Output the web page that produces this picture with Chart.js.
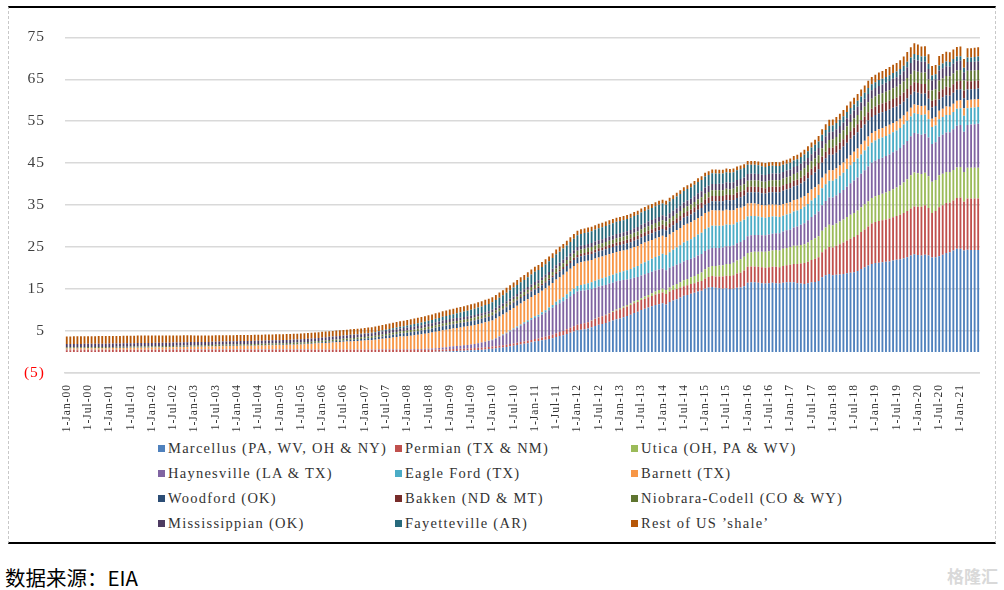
<!DOCTYPE html>
<html>
<head>
  <meta charset="UTF-8" />
  <title>美国页岩气产量</title>
  <script src="https://cdn.jsdelivr.net/npm/chart.js"></script>
  <style>
    body { margin: 0; background: #fff; width: 1004px; height: 590px; overflow: hidden; position: relative; }
    .frame {
      position: absolute; left: 8px; top: 6px; width: 988px; height: 538px;
      box-sizing: border-box;
      border-top: 2px solid #000; border-bottom: 2px solid #000;
      border-left: 1px dashed #c8c8c8; border-right: 1px dashed #c8c8c8;
    }
    #chart { position: absolute; left: 0; top: 0; }
    .legend-item {
      position: absolute; font-family: "Liberation Serif", "Times New Roman", serif; font-size: 14.5px;
      letter-spacing: 1.25px; line-height: 16px; color: #333; white-space: pre;
    }
    .legend-item i { display: inline-block; width: 7px; height: 7px; margin-right: 3px; vertical-align: 1px; }
    .source { position: absolute; left: 5px; top: 566px; font-family: "Noto Sans CJK SC"; font-size: 20.5px; line-height: 22px; color: #000; }
    .mark { position: absolute; right: 6px; top: 566px; font-family: "Noto Sans CJK SC"; font-weight: bold; font-size: 17px; line-height: 20px; color: #d9d9d9; }
  </style>
</head>
<body>
  <div class="frame">
    <canvas id="chart" width="986" height="430"></canvas>
    <div id="legend"></div>
  </div>
  <div class="source">数据来源：EIA</div>
  <div class="mark">格隆汇</div>

<script>
  // monthly, Jan-2000 .. Jun-2021, bcf/d
  const monthNames = ['Jan', 'Feb', 'Mar', 'Apr', 'May', 'Jun', 'Jul', 'Aug', 'Sep', 'Oct', 'Nov', 'Dec']
  const firstYear = 2000
  const monthCount = 258
  const yTicks = [-5, 5, 15, 25, 35, 45, 55, 65, 75]

  const seriesNames = [
    'Marcellus (PA, WV, OH & NY)', 'Permian (TX & NM)', 'Utica (OH, PA & WV)',
    'Haynesville (LA & TX)', 'Eagle Ford (TX)', 'Barnett (TX)',
    'Woodford (OK)', 'Bakken (ND & MT)', 'Niobrara-Codell (CO & WY)',
    'Mississippian (OK)', 'Fayetteville (AR)', 'Rest of US ’shale’'
  ]
  const seriesColors = [
    '#4F81BD', '#C0504D', '#9BBB59', '#8064A2', '#4BACC6', '#F79646',
    '#2C4D75', '#772C2A', '#5F7530', '#4D3B62', '#276A7C', '#B65708'
  ]

  const marcellus = [
    0,0,0,0,0,0,0,0,0,0,0,0,
    0,0,0,0,0,0,0,0,0,0,0,0,
    0,0,0,0,0,0,0,0,0,0,0,0,
    0,0,0,0,0,0,0,0,0,0,0,0,
    0,0,0,0,0,0,0,0,0,0,0,0,
    0,0,0,0,0,0,0,0,0,0,0,0,
    0,0,0,0,0,0,0,0,0,0,0,0,
    0,0,0,0,0,0,0,0,0,0,0,0,
    0,0,0,0,0,0,0.02,0.03,0.05,0.07,0.1,0.12,
    0.2,0.22,0.25,0.28,0.32,0.36,0.4,0.45,0.5,0.55,0.62,0.7,
    0.8,0.9,1.0,1.1,1.2,1.35,1.5,1.65,1.8,1.95,2.1,2.3,
    2.5,2.6,2.8,2.9,3.1,3.3,3.6,3.8,4.0,4.3,4.6,4.9,
    5.2,5.3,5.4,5.6,5.9,6.2,6.5,6.7,6.9,7.2,7.5,7.8,
    8.0,8.3,8.6,8.9,9.3,9.6,10.0,10.3,10.6,10.9,11.2,11.4,
    11.6,11.3,11.9,12.3,12.6,13.0,13.4,13.6,13.9,14.1,14.4,14.6,
    15.1,15.4,15.5,15.3,15.2,15.1,15.2,15.0,15.1,15.3,15.4,15.7,
    16.5,16.6,16.6,16.5,16.4,16.3,16.4,16.5,16.4,16.3,16.5,16.6,
    16.6,16.6,16.4,16.3,16.2,16.4,16.6,16.7,16.9,17.8,18.3,18.6,
    18.3,18.4,18.5,18.6,18.8,18.9,19.0,19.3,19.8,20.2,20.6,21.0,
    21.2,21.3,21.4,21.5,21.6,21.8,22.0,22.1,22.3,22.6,23.0,23.3,
    23.1,23.0,23.2,23.0,22.5,22.6,22.8,23.2,23.6,23.8,24.2,24.6,
    24.6,24.2,24.4,24.3,24.3,24.3
  ]
  const permian = [
    0.45,0.45,0.46,0.45,0.45,0.46,0.46,0.45,0.45,0.46,0.46,0.46,
    0.46,0.46,0.47,0.46,0.46,0.47,0.47,0.46,0.47,0.47,0.47,0.47,
    0.47,0.47,0.48,0.47,0.47,0.48,0.48,0.48,0.48,0.48,0.48,0.49,
    0.49,0.49,0.49,0.49,0.49,0.5,0.5,0.5,0.5,0.5,0.5,0.5,
    0.5,0.5,0.5,0.5,0.5,0.5,0.5,0.5,0.5,0.5,0.5,0.5,
    0.5,0.5,0.5,0.51,0.51,0.51,0.51,0.51,0.51,0.52,0.52,0.52,
    0.52,0.52,0.52,0.52,0.52,0.52,0.53,0.53,0.53,0.53,0.53,0.53,
    0.53,0.53,0.53,0.53,0.54,0.54,0.54,0.54,0.54,0.54,0.55,0.55,
    0.55,0.55,0.55,0.55,0.55,0.55,0.55,0.54,0.54,0.53,0.52,0.51,
    0.5,0.5,0.49,0.49,0.48,0.48,0.48,0.48,0.49,0.49,0.5,0.5,
    0.5,0.5,0.51,0.52,0.53,0.54,0.55,0.56,0.57,0.58,0.58,0.59,
    0.6,0.63,0.67,0.71,0.76,0.82,0.88,0.95,1.02,1.1,1.18,1.25,
    1.3,1.37,1.44,1.51,1.58,1.65,1.72,1.8,1.88,1.96,2.04,2.12,
    2.2,2.22,2.25,2.28,2.31,2.34,2.37,2.4,2.43,2.46,2.5,2.55,
    2.6,2.55,2.5,2.45,2.4,2.35,2.3,2.3,2.3,2.3,2.35,2.35,
    2.4,2.5,2.6,2.7,2.8,2.9,3.0,3.1,3.2,3.4,3.5,3.7,
    3.8,3.8,3.8,3.8,3.8,3.8,3.8,3.8,3.9,3.9,4.0,4.1,
    4.2,4.4,4.6,4.8,5.0,5.1,5.3,5.5,5.7,6.0,6.2,6.4,
    6.6,6.9,7.2,7.5,7.8,8.1,8.4,8.6,8.8,9.0,9.3,9.6,
    9.8,9.9,10.0,10.1,10.2,10.3,10.4,10.6,10.8,11.0,11.2,11.4,
    11.5,11.6,11.8,11.3,10.6,11.0,11.7,11.8,11.9,11.8,11.9,12.1,
    12.2,11.6,12.2,12.3,12.3,12.3
  ]
  const utica = [
    0,0,0,0,0,0,0,0,0,0,0,0,
    0,0,0,0,0,0,0,0,0,0,0,0,
    0,0,0,0,0,0,0,0,0,0,0,0,
    0,0,0,0,0,0,0,0,0,0,0,0,
    0,0,0,0,0,0,0,0,0,0,0,0,
    0,0,0,0,0,0,0,0,0,0,0,0,
    0,0,0,0,0,0,0,0,0,0,0,0,
    0,0,0,0,0,0,0,0,0,0,0,0,
    0,0,0,0,0,0,0,0,0,0,0,0,
    0,0,0,0,0,0,0,0,0,0,0,0,
    0,0,0,0,0,0,0,0,0,0,0,0,
    0,0,0,0,0,0,0,0,0,0,0,0,
    0.02,0.03,0.03,0.04,0.05,0.06,0.08,0.1,0.12,0.15,0.18,0.22,
    0.3,0.32,0.35,0.38,0.4,0.43,0.47,0.52,0.58,0.65,0.72,0.8,
    0.9,0.95,1.0,1.1,1.2,1.3,1.4,1.5,1.6,1.7,1.85,2.0,
    2.2,2.3,2.4,2.5,2.6,2.7,2.8,2.9,3.0,3.1,3.2,3.3,
    3.3,3.4,3.5,3.6,3.7,3.8,3.8,3.9,4.0,4.0,4.1,4.1,
    4.2,4.3,4.3,4.4,4.5,4.6,4.8,4.9,5.0,5.1,5.2,5.3,
    5.3,5.3,5.4,5.5,5.6,5.7,5.7,5.8,5.9,6.0,6.0,6.1,
    6.1,6.2,6.3,6.4,6.6,6.7,6.8,7.0,7.3,7.6,7.9,8.1,
    8.0,7.8,7.7,7.6,7.5,7.4,7.6,7.5,7.4,7.3,7.3,7.3,
    7.3,7.1,7.3,7.3,7.3,7.3
  ]
  const haynesville = [
    0.1,0.1,0.1,0.1,0.1,0.1,0.1,0.1,0.1,0.1,0.1,0.1,
    0.1,0.1,0.1,0.1,0.1,0.1,0.1,0.1,0.1,0.1,0.1,0.1,
    0.1,0.1,0.1,0.1,0.1,0.1,0.1,0.1,0.1,0.1,0.1,0.1,
    0.1,0.1,0.1,0.1,0.1,0.1,0.1,0.1,0.1,0.1,0.1,0.1,
    0.1,0.1,0.1,0.1,0.1,0.1,0.1,0.1,0.1,0.1,0.1,0.1,
    0.1,0.1,0.1,0.1,0.1,0.1,0.1,0.1,0.1,0.1,0.1,0.1,
    0.1,0.1,0.1,0.1,0.1,0.1,0.1,0.1,0.1,0.1,0.1,0.1,
    0.1,0.1,0.1,0.1,0.1,0.1,0.11,0.11,0.11,0.11,0.12,0.12,
    0.12,0.13,0.14,0.15,0.17,0.2,0.23,0.27,0.32,0.38,0.45,0.52,
    0.6,0.65,0.7,0.75,0.8,0.85,0.9,1.0,1.1,1.2,1.3,1.4,
    1.5,1.8,2.1,2.4,2.7,3.0,3.3,3.6,3.9,4.2,4.5,4.8,
    5.0,5.2,5.5,5.8,6.1,6.4,6.7,6.9,7.1,7.3,7.5,7.7,
    7.9,7.9,7.8,7.7,7.5,7.4,7.3,7.2,7.1,7.0,6.8,6.7,
    6.5,6.3,6.1,5.9,5.7,5.5,5.4,5.3,5.2,5.1,5.0,4.9,
    4.8,4.7,4.7,4.6,4.6,4.5,4.5,4.5,4.4,4.4,4.4,4.4,
    4.4,4.3,4.3,4.3,4.2,4.2,4.2,4.2,4.1,4.1,4.1,4.0,
    4.0,4.0,4.0,4.0,3.9,3.9,4.0,4.0,4.0,4.1,4.1,4.2,
    4.2,4.4,4.6,4.8,5.0,5.3,5.5,5.7,5.9,6.1,6.3,6.5,
    6.6,6.7,6.8,7.0,7.2,7.5,7.8,7.9,8.0,8.1,8.3,8.4,
    8.5,8.6,8.6,8.7,8.7,8.8,8.8,8.9,9.0,9.1,9.3,9.4,
    9.4,9.4,9.3,9.2,9.0,9.0,9.2,9.3,9.4,9.5,9.7,9.9,
    10.0,9.6,10.2,10.3,10.4,10.5
  ]
  const eagleFord = [
    0,0,0,0,0,0,0,0,0,0,0,0,
    0,0,0,0,0,0,0,0,0,0,0,0,
    0,0,0,0,0,0,0,0,0,0,0,0,
    0,0,0,0,0,0,0,0,0,0,0,0,
    0,0,0,0,0,0,0,0,0,0,0,0,
    0,0,0,0,0,0,0,0,0,0,0,0,
    0,0,0,0,0,0,0,0,0,0,0,0,
    0,0,0,0,0,0,0,0,0,0,0,0,
    0,0,0,0,0,0,0,0,0,0,0,0,
    0,0,0,0,0,0,0,0.01,0.02,0.03,0.05,0.07,
    0.1,0.12,0.14,0.16,0.19,0.22,0.25,0.28,0.31,0.34,0.37,0.4,
    0.4,0.45,0.5,0.56,0.62,0.7,0.78,0.86,0.95,1.05,1.15,1.25,
    1.3,1.4,1.5,1.55,1.6,1.65,1.7,1.75,1.8,1.85,1.9,1.95,
    2.0,2.1,2.2,2.35,2.5,2.65,2.8,2.9,3.0,3.1,3.2,3.3,
    3.5,3.6,3.7,3.9,4.1,4.3,4.5,4.6,4.7,4.9,5.0,5.1,
    5.2,5.2,5.3,5.3,5.3,5.2,5.2,5.1,5.0,5.0,4.9,4.8,
    4.7,4.6,4.5,4.4,4.3,4.2,4.2,4.1,4.0,3.9,3.8,3.8,
    3.8,3.8,3.8,3.8,3.9,3.9,3.9,3.9,3.9,4.0,4.0,4.0,
    4.0,4.0,4.1,4.1,4.2,4.3,4.4,4.5,4.6,4.7,4.8,4.8,
    4.8,4.8,4.8,4.8,4.8,4.8,4.8,4.8,4.8,4.8,4.7,4.7,
    4.7,4.7,4.6,4.4,4.0,4.0,4.2,4.2,4.2,4.1,4.1,4.1,
    4.0,3.8,4.0,4.0,4.0,4.0
  ]
  const barnett = [
    0.3,0.3,0.31,0.31,0.32,0.32,0.33,0.33,0.34,0.34,0.35,0.35,
    0.36,0.37,0.38,0.39,0.4,0.41,0.42,0.43,0.44,0.45,0.46,0.47,
    0.48,0.49,0.5,0.51,0.52,0.53,0.54,0.56,0.58,0.6,0.62,0.64,
    0.65,0.66,0.67,0.68,0.7,0.72,0.74,0.76,0.78,0.8,0.82,0.84,
    0.86,0.87,0.88,0.89,0.9,0.92,0.94,0.96,0.98,1.0,1.02,1.04,
    1.06,1.08,1.1,1.12,1.15,1.18,1.21,1.25,1.29,1.34,1.39,1.44,
    1.5,1.55,1.6,1.65,1.7,1.75,1.8,1.85,1.9,1.95,2.0,2.05,
    2.1,2.15,2.2,2.3,2.4,2.5,2.6,2.7,2.8,2.9,3.0,3.05,
    3.1,3.2,3.3,3.4,3.5,3.6,3.7,3.8,3.9,4.0,4.1,4.15,
    4.2,4.25,4.3,4.35,4.4,4.45,4.5,4.5,4.55,4.55,4.6,4.6,
    4.6,4.65,4.7,4.75,4.8,4.85,4.9,4.95,5.0,5.0,5.05,5.05,
    5.1,5.1,5.15,5.2,5.2,5.25,5.3,5.3,5.35,5.35,5.4,5.4,
    5.4,5.4,5.4,5.35,5.3,5.3,5.25,5.2,5.2,5.15,5.1,5.05,
    5.0,4.95,4.9,4.85,4.8,4.75,4.7,4.65,4.6,4.5,4.45,4.4,
    4.3,4.25,4.2,4.2,4.15,4.1,4.1,4.05,4.0,4.0,3.95,3.9,
    3.8,3.75,3.7,3.65,3.6,3.55,3.5,3.45,3.4,3.35,3.3,3.2,
    3.1,3.05,3.0,3.0,2.95,2.9,2.9,2.85,2.8,2.8,2.75,2.7,
    2.7,2.7,2.65,2.65,2.6,2.6,2.6,2.55,2.55,2.5,2.5,2.5,
    2.5,2.5,2.45,2.45,2.45,2.4,2.4,2.4,2.35,2.35,2.35,2.3,
    2.3,2.3,2.3,2.25,2.25,2.2,2.2,2.2,2.15,2.15,2.1,2.1,
    2.1,2.1,2.1,2.05,2.0,2.0,2.0,2.0,2.0,1.95,1.95,1.9,
    1.9,1.8,1.9,1.9,1.9,1.9
  ]
  const woodford = [
    0.05,0.05,0.05,0.05,0.05,0.05,0.05,0.05,0.05,0.05,0.05,0.05,
    0.05,0.05,0.05,0.05,0.05,0.05,0.06,0.06,0.06,0.06,0.06,0.06,
    0.06,0.06,0.06,0.06,0.06,0.06,0.07,0.07,0.07,0.07,0.07,0.07,
    0.07,0.07,0.07,0.07,0.07,0.07,0.08,0.08,0.08,0.08,0.08,0.08,
    0.08,0.08,0.08,0.08,0.09,0.09,0.09,0.09,0.1,0.1,0.1,0.1,
    0.1,0.1,0.11,0.11,0.12,0.12,0.13,0.14,0.15,0.16,0.17,0.18,
    0.2,0.22,0.24,0.26,0.28,0.3,0.32,0.34,0.36,0.38,0.4,0.42,
    0.45,0.48,0.5,0.52,0.55,0.58,0.6,0.63,0.66,0.7,0.73,0.76,
    0.8,0.82,0.84,0.86,0.88,0.9,0.92,0.94,0.96,0.97,0.98,0.99,
    1.0,1.0,1.01,1.02,1.03,1.04,1.05,1.06,1.07,1.08,1.09,1.1,
    1.2,1.2,1.21,1.22,1.23,1.24,1.25,1.26,1.27,1.28,1.29,1.3,
    1.3,1.3,1.31,1.32,1.33,1.34,1.35,1.36,1.37,1.38,1.39,1.4,
    1.4,1.4,1.41,1.42,1.43,1.44,1.45,1.46,1.47,1.48,1.49,1.5,
    1.5,1.5,1.51,1.52,1.53,1.54,1.55,1.56,1.57,1.58,1.59,1.6,
    1.6,1.62,1.64,1.66,1.7,1.74,1.78,1.82,1.86,1.9,1.94,1.98,
    2.0,2.05,2.1,2.15,2.2,2.25,2.3,2.35,2.4,2.45,2.5,2.55,
    2.6,2.65,2.7,2.75,2.8,2.85,2.9,2.95,3.0,3.1,3.2,3.25,
    3.3,3.3,3.35,3.4,3.45,3.5,3.5,3.55,3.6,3.6,3.65,3.7,
    3.7,3.7,3.75,3.8,3.85,3.9,3.9,3.9,3.9,3.85,3.85,3.8,
    3.8,3.8,3.75,3.7,3.65,3.6,3.5,3.4,3.3,3.2,3.1,3.0,
    3.0,2.95,2.9,2.8,2.65,2.6,2.7,2.7,2.7,2.65,2.65,2.6,
    2.6,2.4,2.55,2.5,2.5,2.5
  ]
  const bakken = [
    0.02,0.02,0.02,0.02,0.02,0.02,0.02,0.02,0.02,0.02,0.02,0.02,
    0.02,0.02,0.02,0.02,0.02,0.02,0.02,0.02,0.02,0.02,0.02,0.02,
    0.02,0.02,0.02,0.02,0.02,0.02,0.02,0.02,0.02,0.02,0.02,0.02,
    0.02,0.02,0.02,0.02,0.02,0.02,0.02,0.02,0.02,0.02,0.02,0.02,
    0.02,0.02,0.02,0.02,0.02,0.02,0.02,0.02,0.02,0.02,0.02,0.02,
    0.02,0.02,0.02,0.02,0.02,0.02,0.02,0.02,0.02,0.02,0.02,0.02,
    0.02,0.02,0.02,0.02,0.02,0.02,0.02,0.02,0.02,0.02,0.02,0.02,
    0.02,0.02,0.02,0.03,0.03,0.03,0.03,0.04,0.04,0.04,0.05,0.05,
    0.05,0.05,0.06,0.06,0.07,0.07,0.08,0.08,0.09,0.09,0.1,0.1,
    0.1,0.1,0.11,0.11,0.12,0.12,0.13,0.13,0.14,0.14,0.15,0.15,
    0.15,0.16,0.17,0.18,0.19,0.2,0.21,0.22,0.24,0.25,0.27,0.28,
    0.3,0.32,0.34,0.36,0.38,0.4,0.42,0.45,0.48,0.5,0.53,0.55,
    0.6,0.62,0.63,0.65,0.67,0.68,0.7,0.72,0.73,0.75,0.77,0.78,
    0.8,0.82,0.83,0.85,0.87,0.88,0.9,0.92,0.93,0.95,0.97,0.98,
    1.0,1.02,1.05,1.07,1.1,1.12,1.15,1.17,1.2,1.22,1.25,1.27,
    1.3,1.3,1.3,1.3,1.3,1.3,1.3,1.3,1.3,1.3,1.3,1.3,
    1.3,1.3,1.3,1.3,1.3,1.3,1.3,1.3,1.3,1.3,1.3,1.3,
    1.3,1.32,1.35,1.37,1.4,1.42,1.45,1.47,1.5,1.52,1.55,1.6,
    1.7,1.72,1.75,1.77,1.8,1.82,1.85,1.87,1.9,1.93,1.96,2.0,
    2.0,2.02,2.05,2.07,2.1,2.12,2.15,2.17,2.2,2.23,2.26,2.3,
    2.3,2.3,2.3,2.0,1.6,1.6,1.9,1.9,2.0,2.0,2.0,2.0,
    2.0,1.8,1.95,1.9,1.9,1.9
  ]
  const niobrara = [
    0.2,0.2,0.2,0.2,0.2,0.21,0.21,0.21,0.21,0.22,0.22,0.22,
    0.22,0.22,0.22,0.22,0.23,0.23,0.23,0.23,0.24,0.24,0.24,0.24,
    0.24,0.24,0.24,0.25,0.25,0.25,0.25,0.25,0.26,0.26,0.26,0.26,
    0.26,0.26,0.26,0.27,0.27,0.27,0.27,0.27,0.28,0.28,0.28,0.28,
    0.28,0.28,0.28,0.29,0.29,0.29,0.29,0.29,0.3,0.3,0.3,0.3,
    0.3,0.3,0.31,0.31,0.31,0.32,0.32,0.32,0.33,0.33,0.34,0.34,
    0.35,0.35,0.36,0.36,0.36,0.37,0.37,0.37,0.38,0.38,0.39,0.39,
    0.4,0.41,0.41,0.42,0.43,0.43,0.44,0.45,0.46,0.46,0.47,0.48,
    0.5,0.5,0.5,0.51,0.51,0.52,0.52,0.52,0.53,0.53,0.54,0.54,
    0.55,0.55,0.56,0.56,0.56,0.57,0.57,0.58,0.58,0.59,0.59,0.6,
    0.6,0.61,0.62,0.63,0.64,0.65,0.66,0.67,0.68,0.69,0.7,0.75,
    0.8,0.81,0.83,0.84,0.85,0.87,0.88,0.89,0.91,0.92,0.94,0.95,
    1.0,1.0,1.0,1.0,1.0,1.0,1.0,1.0,1.0,1.0,1.0,1.0,
    1.0,1.0,1.01,1.02,1.03,1.04,1.05,1.06,1.07,1.08,1.09,1.1,
    1.1,1.11,1.13,1.14,1.16,1.17,1.19,1.2,1.22,1.23,1.25,1.28,
    1.3,1.31,1.33,1.34,1.35,1.37,1.38,1.39,1.41,1.42,1.44,1.45,
    1.5,1.5,1.5,1.5,1.51,1.52,1.53,1.54,1.55,1.56,1.57,1.58,
    1.6,1.63,1.66,1.7,1.73,1.76,1.8,1.83,1.86,1.89,1.92,1.95,
    2.0,2.03,2.07,2.1,2.13,2.17,2.2,2.23,2.27,2.3,2.34,2.38,
    2.4,2.43,2.45,2.48,2.5,2.53,2.55,2.58,2.6,2.63,2.66,2.7,
    2.7,2.7,2.7,2.6,2.45,2.4,2.6,2.6,2.6,2.6,2.6,2.6,
    2.6,2.4,2.5,2.5,2.5,2.5
  ]
  const mississippian = [
    0.8,0.8,0.8,0.8,0.8,0.8,0.8,0.8,0.8,0.8,0.8,0.8,
    0.8,0.8,0.8,0.8,0.8,0.8,0.8,0.8,0.8,0.8,0.8,0.8,
    0.8,0.8,0.8,0.8,0.79,0.79,0.79,0.79,0.78,0.78,0.78,0.78,
    0.77,0.77,0.77,0.77,0.76,0.76,0.76,0.76,0.75,0.75,0.75,0.75,
    0.75,0.75,0.75,0.75,0.75,0.75,0.75,0.75,0.75,0.75,0.75,0.75,
    0.75,0.75,0.75,0.75,0.75,0.75,0.75,0.75,0.75,0.75,0.75,0.75,
    0.75,0.75,0.75,0.75,0.75,0.74,0.74,0.74,0.74,0.73,0.73,0.73,
    0.73,0.73,0.72,0.72,0.72,0.71,0.71,0.71,0.7,0.7,0.7,0.7,
    0.7,0.7,0.7,0.7,0.7,0.7,0.7,0.7,0.7,0.7,0.7,0.7,
    0.7,0.69,0.68,0.67,0.66,0.65,0.64,0.63,0.62,0.61,0.6,0.6,
    0.6,0.6,0.61,0.61,0.62,0.62,0.63,0.63,0.64,0.64,0.65,0.65,
    0.7,0.71,0.72,0.73,0.75,0.76,0.77,0.78,0.8,0.81,0.83,0.85,
    0.9,0.9,0.91,0.92,0.93,0.94,0.95,0.96,0.97,0.98,0.99,1.0,
    1.0,1.01,1.03,1.04,1.05,1.07,1.08,1.09,1.11,1.12,1.14,1.15,
    1.2,1.22,1.24,1.26,1.28,1.3,1.32,1.34,1.36,1.39,1.42,1.45,
    1.5,1.5,1.51,1.52,1.53,1.54,1.55,1.56,1.57,1.58,1.59,1.6,
    1.6,1.6,1.6,1.6,1.6,1.6,1.6,1.6,1.6,1.6,1.6,1.6,
    1.6,1.62,1.63,1.65,1.67,1.68,1.7,1.72,1.73,1.75,1.77,1.8,
    1.8,1.82,1.83,1.85,1.87,1.88,1.9,1.92,1.93,1.95,1.97,2.0,
    2.0,2.05,2.1,2.15,2.2,2.25,2.3,2.35,2.45,2.55,2.65,2.7,
    2.7,2.6,2.6,2.5,2.4,2.4,2.4,2.4,2.3,2.3,2.3,2.2,
    2.2,2.0,2.1,2.1,2.1,2.1
  ]
  const fayetteville = [
    0,0,0,0,0,0,0,0,0,0,0,0,
    0,0,0,0,0,0,0,0,0,0,0,0,
    0,0,0,0,0,0,0,0,0,0,0,0,
    0,0,0,0,0,0,0,0,0,0,0,0,
    0,0,0,0,0,0,0,0,0,0,0,0,
    0,0,0,0,0,0,0,0,0.01,0.01,0.01,0.01,
    0.02,0.02,0.03,0.03,0.04,0.04,0.05,0.05,0.06,0.07,0.08,0.09,
    0.1,0.12,0.14,0.17,0.2,0.23,0.26,0.3,0.34,0.38,0.42,0.46,
    0.5,0.54,0.58,0.62,0.66,0.7,0.74,0.78,0.82,0.86,0.9,0.95,
    1.0,1.06,1.13,1.2,1.27,1.34,1.41,1.48,1.55,1.62,1.69,1.75,
    1.8,1.85,1.9,1.95,2.0,2.05,2.1,2.15,2.2,2.25,2.3,2.35,
    2.4,2.43,2.46,2.49,2.52,2.55,2.6,2.63,2.66,2.69,2.72,2.75,
    2.8,2.81,2.82,2.83,2.84,2.85,2.86,2.87,2.88,2.89,2.9,2.9,
    2.9,2.9,2.9,2.9,2.9,2.9,2.9,2.9,2.9,2.9,2.9,2.9,
    2.8,2.8,2.79,2.78,2.77,2.76,2.75,2.74,2.72,2.7,2.68,2.65,
    2.6,2.57,2.54,2.51,2.48,2.45,2.42,2.39,2.36,2.33,2.3,2.25,
    2.2,2.15,2.1,2.05,2.0,1.95,1.9,1.85,1.8,1.75,1.7,1.65,
    1.6,1.6,1.6,1.6,1.6,1.58,1.57,1.56,1.55,1.54,1.52,1.5,
    1.5,1.5,1.5,1.49,1.48,1.47,1.46,1.45,1.44,1.43,1.42,1.41,
    1.4,1.4,1.39,1.39,1.38,1.37,1.36,1.35,1.34,1.33,1.32,1.3,
    1.3,1.28,1.26,1.24,1.2,1.18,1.16,1.15,1.14,1.13,1.12,1.11,
    1.1,1.05,1.1,1.1,1.1,1.1
  ]
  const restOfUS = [
    1.8,1.8,1.8,1.8,1.8,1.8,1.8,1.8,1.8,1.8,1.8,1.8,
    1.8,1.8,1.8,1.79,1.79,1.79,1.78,1.78,1.78,1.77,1.77,1.76,
    1.75,1.74,1.73,1.72,1.71,1.7,1.69,1.68,1.67,1.66,1.65,1.64,
    1.55,1.54,1.53,1.52,1.51,1.5,1.5,1.49,1.48,1.47,1.46,1.45,
    1.45,1.45,1.44,1.44,1.43,1.43,1.42,1.42,1.41,1.41,1.4,1.4,
    1.4,1.4,1.39,1.39,1.38,1.38,1.37,1.37,1.36,1.36,1.35,1.35,
    1.35,1.35,1.34,1.34,1.33,1.33,1.32,1.32,1.31,1.31,1.3,1.3,
    1.3,1.3,1.3,1.3,1.3,1.3,1.3,1.3,1.3,1.3,1.3,1.3,
    1.3,1.3,1.3,1.3,1.3,1.3,1.3,1.3,1.3,1.3,1.3,1.3,
    1.3,1.3,1.3,1.29,1.29,1.28,1.28,1.27,1.27,1.26,1.26,1.25,
    1.2,1.2,1.2,1.2,1.2,1.2,1.2,1.2,1.2,1.2,1.2,1.2,
    1.2,1.2,1.19,1.18,1.17,1.16,1.15,1.14,1.13,1.12,1.11,1.1,
    1.1,1.1,1.09,1.08,1.07,1.06,1.05,1.04,1.03,1.02,1.01,1.0,
    1.0,1.0,1.0,0.99,0.99,0.98,0.97,0.97,0.96,0.96,0.95,0.95,
    0.9,0.9,0.9,0.9,0.9,0.9,0.9,0.9,0.9,0.9,0.9,0.9,
    0.9,0.9,0.9,0.9,0.9,0.9,0.9,0.9,0.9,0.9,0.9,0.9,
    0.9,0.9,0.9,0.9,0.9,0.9,0.91,0.92,0.93,0.93,0.94,0.95,
    1.0,1.03,1.07,1.1,1.13,1.17,1.2,1.23,1.27,1.3,1.35,1.5,
    1.4,1.42,1.45,1.5,1.55,1.58,1.6,1.63,1.66,1.7,1.73,1.75,
    1.8,1.82,1.85,1.88,1.92,1.96,2.0,2.08,2.18,2.3,2.45,2.6,
    2.5,2.4,2.4,2.3,2.25,2.2,2.3,2.3,2.3,2.3,2.3,2.3,
    2.3,2.1,2.2,2.2,2.2,2.2
  ]

  const seriesValues = [marcellus, permian, utica, haynesville, eagleFord, barnett,
    woodford, bakken, niobrara, mississippian, fayetteville, restOfUS]

  // 1-Jan-00 style category labels
  const categories = []
  for (let i = 0; i < monthCount; i++) {
    const yy = String((firstYear + Math.floor(i / 12)) % 100).padStart(2, '0')
    categories.push('1-' + monthNames[i % 12] + '-' + yy)
  }

  seriesValues.forEach((s, k) => {
    if (s.length !== monthCount) console.log('length mismatch', seriesNames[k], s.length)
  })

  const datasets = seriesNames.map((name, k) => ({
    label: name,
    data: seriesValues[k],
    backgroundColor: seriesColors[k],
    borderWidth: 0,
    barPercentage: 0.52,
    categoryPercentage: 1.0
  }))

  // spaced-out axis text, like the original's wide latin glyphs
  const spacedText = {
    id: 'spacedText',
    beforeDraw: chart => { chart.ctx.letterSpacing = '1px' }
  }

  new Chart(document.getElementById('chart').getContext('2d'), {
    type: 'bar',
    data: { labels: categories, datasets: datasets },
    options: {
      responsive: false,
      animation: false,
      layout: { padding: { top: 15, right: 11, left: 0, bottom: 0 } },
      plugins: { legend: { display: false }, tooltip: { enabled: false } },
      scales: {
        x: {
          stacked: true,
          grid: { display: false },
          border: { color: '#d9d9d9', width: 1.5 },
          ticks: {
            autoSkip: false,
            maxRotation: 90,
            minRotation: 90,
            padding: 3,
            color: '#333',
            font: { family: '"Liberation Serif", "Times New Roman", serif', size: 11.5 },
            callback: (v, i) => (i % 6 === 0 ? categories[i] : '')
          },
          afterFit: s => { s.height = 65 }
        },
        y: {
          stacked: true,
          min: -5,
          max: 75,
          afterBuildTicks: s => { s.ticks = yTicks.map(v => ({ value: v })) },
          grid: { color: '#d9d9d9', lineWidth: 1.5, drawTicks: false },
          border: { display: false },
          ticks: {
            padding: 20,
            font: { family: '"Liberation Serif", "Times New Roman", serif', size: 15.5 },
            color: ctx => (ctx.tick && ctx.tick.value < 0 ? '#ff0000' : '#404040'),
            callback: v => (v < 0 ? '(' + (-v) + ')' : v)
          },
          afterFit: s => { s.width = 56 }
        }
      }
    },
    plugins: [spacedText]
  })

  // legend in three aligned columns, built from the same series lists
  const legend = document.getElementById('legend')
  const colX = [149, 386, 622]
  const rowY = [432, 457, 482, 507]
  seriesNames.forEach((name, k) => {
    const item = document.createElement('div')
    item.className = 'legend-item'
    item.style.left = colX[k % 3] + 'px'
    item.style.top = rowY[Math.floor(k / 3)] + 'px'
    item.innerHTML = '<i style="background:' + seriesColors[k] + '"></i>'
    item.appendChild(document.createTextNode(name))
    legend.appendChild(item)
  })
</script>
</body>
</html>
